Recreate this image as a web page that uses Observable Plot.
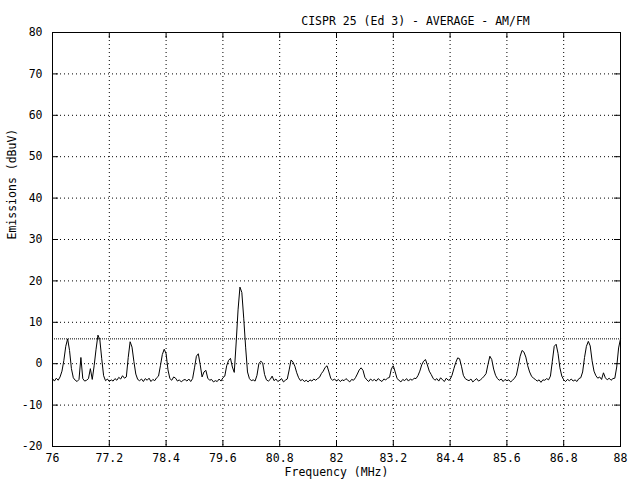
<!DOCTYPE html>
<html>
<head>
<meta charset="utf-8">
<script src="https://cdn.jsdelivr.net/npm/d3@7"></script>
<script src="https://cdn.jsdelivr.net/npm/@observablehq/plot@0.6"></script>
<style>
  html, body { margin: 0; padding: 0; background: #fff; }
</style>
</head>
<body>
<div id="chart"></div>
<script>
const title = "CISPR 25 (Ed 3) - AVERAGE - AM/FM";
const xLabel = "Frequency (MHz)";
const yLabel = "Emissions (dBuV)";
const xTicks = [76, 77.2, 78.4, 79.6, 80.8, 82, 83.2, 84.4, 85.6, 86.8, 88];
const yTicks = [-20, -10, 0, 10, 20, 30, 40, 50, 60, 70, 80];
const limitLevel = [6];
// sweep: 76 MHz to 88 MHz, one reading every 0.04 MHz
const freqStart = 76;
const freqStep = 0.04;
const levels = [
  -3.6, -4.2, -3.5, -4.0, -3.2, -1.8, 0.8, 4.2, 6.0, 3.2,
  -1.2, -3.4, -4.0, -4.3, -3.8, 1.5, -3.6, -4.2, -4.0, -3.6,
  -1.2, -3.8, -0.5, 3.5, 6.9, 5.8, 1.2, -2.9, -4.1, -3.7,
  -4.3, -3.9, -4.2, -3.6, -4.0, -3.3, -3.7, -2.9, -3.5, -3.2,
  1.5, 5.3, 4.0, 0.5, -2.5, -3.8, -4.1, -3.7, -4.3, -3.6,
  -4.0, -3.5, -4.3, -3.8, -4.1, -3.4, -3.0, -0.5, 2.2, 3.5,
  2.4, -1.5, -3.6, -4.0, -3.2, -3.5, -4.2, -3.9, -4.4, -4.0,
  -3.8, -4.2, -3.7, -4.3, -3.6, -1.0, 1.8, 2.4, -0.2, -3.2,
  -2.0, -1.6, -3.5, -4.0, -3.8, -4.4, -4.1, -4.3, -3.7, -4.2,
  -3.4, -3.0, -0.5, 0.8, 1.3, -0.8, -2.1, 5.0, 13.0, 18.5,
  17.2, 11.0, 4.0, -2.0, -3.6, -4.1, -3.9, -4.2, -2.8, 0.0,
  0.6, 0.2, -2.6, -3.9, -4.2, -3.8, -3.0, -4.1, -3.7, -4.3,
  -4.0, -3.6, -4.4, -4.0, -3.7, -1.5, 0.9, 0.4, -0.6, -2.2,
  -3.4, -4.1, -3.8, -4.3, -4.0, -4.4, -3.9, -4.2, -3.7, -4.0,
  -3.6, -3.3, -2.4, -1.8, -0.9, -0.5, -2.0, -3.6, -4.0, -3.7,
  -4.2, -3.8, -4.3, -3.9, -4.1, -3.6, -4.0, -4.4, -3.8, -4.0,
  -3.4, -2.5, -1.5, -1.0, -1.6, -3.3, -3.9, -4.3, -3.7, -4.1,
  -3.8, -4.2, -3.6, -4.0, -4.3, -3.7, -3.9, -3.5, -3.3, -1.2,
  -0.5, -2.0, -3.6, -4.0, -4.4, -3.8, -4.1, -3.6, -4.2, -3.7,
  -4.0, -3.5, -3.6, -2.9, -1.8, -0.3, 0.6, 1.0, -0.3, -1.8,
  -2.6, -3.5, -4.0, -3.6, -4.2, -3.4, -3.9, -4.3, -3.5, -4.0,
  -3.8, -2.8, -1.2, 0.3, 1.4, 1.2, -0.6, -2.8, -3.6, -3.9,
  -4.1, -3.7, -4.4, -4.0, -3.6, -4.2, -3.9, -3.5, -3.0, -2.4,
  -0.2, 1.8, 1.0, -1.3, -2.8, -3.6, -4.0, -3.7, -4.3, -3.8,
  -4.1, -3.9, -4.4, -4.0, -3.5, -2.8, -0.6, 1.8, 3.2, 2.8,
  1.6, -0.5, -2.0, -3.0, -3.5, -3.8, -4.2, -3.9, -4.5, -3.9,
  -4.0, -3.6, -3.9, -3.0, 0.6, 4.2, 4.7, 2.5, -1.0, -3.0,
  -3.9, -4.3, -3.8, -4.1, -3.7, -4.2, -3.9, -4.3, -3.6, -3.4,
  -2.0, 1.5, 4.2, 5.4, 4.3, 0.7, -1.8, -2.9, -3.5, -3.2,
  -3.8, -2.2, -3.4, -3.9, -3.5, -4.0, -3.6, -3.5, -0.8, 3.8,
  6.0
];

const data = levels.map((v, i) => ({ f: freqStart + i * freqStep, v }));

const W = 640, H = 480;
const mL = 52, mR = 20, mT = 32, mB = 34;
const fw = W - mL - mR, fh = H - mT - mB;
const tick = 6;
const fmt = d => String(+(+d).toFixed(1));

const chart = Plot.plot({
  width: W,
  height: H,
  marginLeft: mL,
  marginRight: mR,
  marginTop: mT,
  marginBottom: mB,
  style: { fontFamily: "'DejaVu Sans Mono', monospace", fontSize: "11.5px", background: "#fff", color: "#000", overflow: "visible" },
  x: { domain: [76, 88] },
  y: { domain: [-20, 80] },
  marks: [
    Plot.ruleX(xTicks.slice(1, -1), { stroke: "#000", strokeWidth: 1, strokeDasharray: "1,3" }),
    Plot.ruleY(yTicks.slice(1, -1), { stroke: "#000", strokeWidth: 1, strokeDasharray: "1,3" }),
    Plot.ruleY(limitLevel, { stroke: "#000", strokeWidth: 1, strokeDasharray: "1,1" }),
    Plot.ruleX(xTicks, { stroke: "#000", insetTop: fh - tick }),
    Plot.ruleX(xTicks, { stroke: "#000", insetBottom: fh - tick }),
    Plot.ruleY(yTicks, { stroke: "#000", insetRight: fw - tick }),
    Plot.ruleY(yTicks, { stroke: "#000", insetLeft: fw - tick }),
    Plot.line(data, { x: "f", y: "v", stroke: "#000", strokeWidth: 1 }),
    Plot.frame({ stroke: "#000" }),
    Plot.axisX(xTicks, { tickSize: 0, tickPadding: 7, tickFormat: fmt, label: null }),
    Plot.axisY(yTicks, { tickSize: 0, tickPadding: 10, tickFormat: fmt, label: null }),
    Plot.text([xLabel], { frameAnchor: "bottom", dy: 29, text: d => d, fill: "#000" }),
    Plot.text([yLabel], { frameAnchor: "left", dx: -40, rotate: -90, text: d => d, fill: "#000" }),
    Plot.text([title], { frameAnchor: "top", dx: 79, dy: -16, text: d => d, fill: "#000" })
  ]
});

document.getElementById("chart").appendChild(chart);
</script>
</body>
</html>
